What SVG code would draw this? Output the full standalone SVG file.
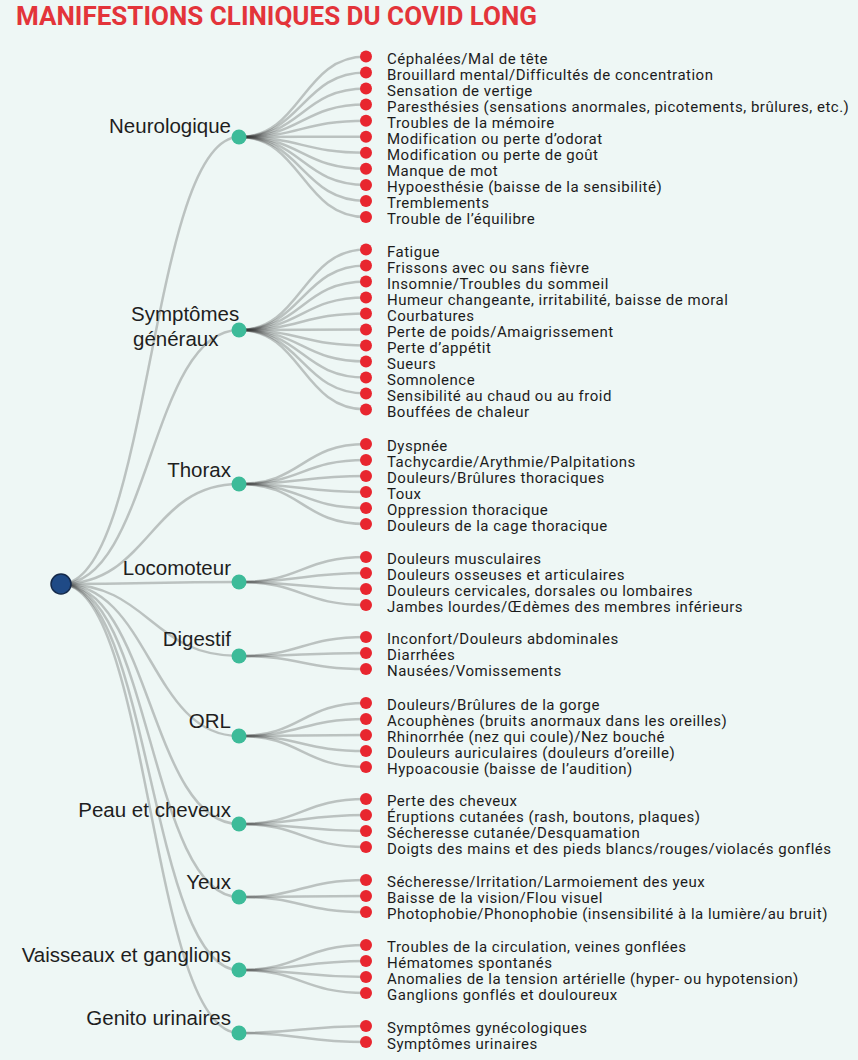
<svg xmlns="http://www.w3.org/2000/svg" width="858" height="1060" viewBox="0 0 858 1060">
<style>
.bg{fill:#eef7f5}
.title{font-family:Roboto,"Liberation Sans",sans-serif;font-weight:700;font-size:25px;fill:#e3343a}
.cat{font-family:"Liberation Sans",Arial,sans-serif;font-size:20.5px;fill:#1e1e1e;text-anchor:end}
.leaf{font-family:Roboto,"Liberation Sans",sans-serif;font-size:15px;letter-spacing:0.5px;fill:#1c1c1c}
.lk{fill:none;stroke:#333;stroke-opacity:0.27;stroke-width:2.5}
.root{fill:#1f4a86;stroke:#14294a;stroke-width:1.5}
.cn{fill:#3dbb99}
.ln{fill:#e8262f}
</style>
<rect class="bg" x="0" y="0" width="858" height="1060"/>
<text class="title" x="16" y="25" textLength="521" lengthAdjust="spacingAndGlyphs">MANIFESTIONS CLINIQUES DU COVID LONG</text>
<g id="connectors">
<path class="lk" d="M61,584 C150,584 150,137 239,137"/>
<path class="lk" d="M61,584 C150,584 150,330 239,330"/>
<path class="lk" d="M61,584 C150,584 150,484 239,484"/>
<path class="lk" d="M61,584 C150,584 150,582 239,582"/>
<path class="lk" d="M61,584 C150,584 150,656 239,656"/>
<path class="lk" d="M61,584 C150,584 150,736 239,736"/>
<path class="lk" d="M61,584 C150,584 150,824 239,824"/>
<path class="lk" d="M61,584 C150,584 150,897 239,897"/>
<path class="lk" d="M61,584 C150,584 150,970 239,970"/>
<path class="lk" d="M61,584 C150,584 150,1033 239,1033"/>
<path class="lk" d="M239,137 C302,137 302,56.5 366,56.5"/>
<path class="lk" d="M239,137 C302,137 302,72.5 366,72.5"/>
<path class="lk" d="M239,137 C302,137 302,88.6 366,88.6"/>
<path class="lk" d="M239,137 C302,137 302,104.6 366,104.6"/>
<path class="lk" d="M239,137 C302,137 302,120.7 366,120.7"/>
<path class="lk" d="M239,137 C302,137 302,136.7 366,136.7"/>
<path class="lk" d="M239,137 C302,137 302,152.8 366,152.8"/>
<path class="lk" d="M239,137 C302,137 302,168.8 366,168.8"/>
<path class="lk" d="M239,137 C302,137 302,184.9 366,184.9"/>
<path class="lk" d="M239,137 C302,137 302,200.9 366,200.9"/>
<path class="lk" d="M239,137 C302,137 302,217 366,217"/>
<path class="lk" d="M239,330 C302,330 302,249.5 366,249.5"/>
<path class="lk" d="M239,330 C302,330 302,265.5 366,265.5"/>
<path class="lk" d="M239,330 C302,330 302,281.5 366,281.5"/>
<path class="lk" d="M239,330 C302,330 302,297.5 366,297.5"/>
<path class="lk" d="M239,330 C302,330 302,313.5 366,313.5"/>
<path class="lk" d="M239,330 C302,330 302,329.5 366,329.5"/>
<path class="lk" d="M239,330 C302,330 302,345.5 366,345.5"/>
<path class="lk" d="M239,330 C302,330 302,361.5 366,361.5"/>
<path class="lk" d="M239,330 C302,330 302,377.5 366,377.5"/>
<path class="lk" d="M239,330 C302,330 302,393.5 366,393.5"/>
<path class="lk" d="M239,330 C302,330 302,409.5 366,409.5"/>
<path class="lk" d="M239,484 C302,484 302,444 366,444"/>
<path class="lk" d="M239,484 C302,484 302,460 366,460"/>
<path class="lk" d="M239,484 C302,484 302,476 366,476"/>
<path class="lk" d="M239,484 C302,484 302,492 366,492"/>
<path class="lk" d="M239,484 C302,484 302,508 366,508"/>
<path class="lk" d="M239,484 C302,484 302,524 366,524"/>
<path class="lk" d="M239,582 C302,582 302,557 366,557"/>
<path class="lk" d="M239,582 C302,582 302,573 366,573"/>
<path class="lk" d="M239,582 C302,582 302,589 366,589"/>
<path class="lk" d="M239,582 C302,582 302,605 366,605"/>
<path class="lk" d="M239,656 C302,656 302,637 366,637"/>
<path class="lk" d="M239,656 C302,656 302,653 366,653"/>
<path class="lk" d="M239,656 C302,656 302,669 366,669"/>
<path class="lk" d="M239,736 C302,736 302,703 366,703"/>
<path class="lk" d="M239,736 C302,736 302,719 366,719"/>
<path class="lk" d="M239,736 C302,736 302,735 366,735"/>
<path class="lk" d="M239,736 C302,736 302,751 366,751"/>
<path class="lk" d="M239,736 C302,736 302,767 366,767"/>
<path class="lk" d="M239,824 C302,824 302,799 366,799"/>
<path class="lk" d="M239,824 C302,824 302,815 366,815"/>
<path class="lk" d="M239,824 C302,824 302,831 366,831"/>
<path class="lk" d="M239,824 C302,824 302,847 366,847"/>
<path class="lk" d="M239,897 C302,897 302,880 366,880"/>
<path class="lk" d="M239,897 C302,897 302,896 366,896"/>
<path class="lk" d="M239,897 C302,897 302,912 366,912"/>
<path class="lk" d="M239,970 C302,970 302,945 366,945"/>
<path class="lk" d="M239,970 C302,970 302,961 366,961"/>
<path class="lk" d="M239,970 C302,970 302,977 366,977"/>
<path class="lk" d="M239,970 C302,970 302,993 366,993"/>
<path class="lk" d="M239,1033 C302,1033 302,1026 366,1026"/>
<path class="lk" d="M239,1033 C302,1033 302,1042 366,1042"/>
</g>
<g id="root"><circle class="root" cx="61" cy="584" r="10"/></g>
<g id="cat-neurologique">
<circle class="cn" cx="239" cy="137" r="7.5"/>
<text class="cat" x="231" y="133">Neurologique</text>
</g>
<g id="cat-symptomes">
<circle class="cn" cx="239" cy="330" r="7.5"/>
<text class="cat" x="131" y="321" style="text-anchor:start">Symptômes</text>
<text class="cat" x="133" y="346" style="text-anchor:start">généraux</text>
</g>
<g id="cat-thorax">
<circle class="cn" cx="239" cy="484" r="7.5"/>
<text class="cat" x="231" y="477">Thorax</text>
</g>
<g id="cat-locomoteur">
<circle class="cn" cx="239" cy="582" r="7.5"/>
<text class="cat" x="231" y="575">Locomoteur</text>
</g>
<g id="cat-digestif">
<circle class="cn" cx="239" cy="656" r="7.5"/>
<text class="cat" x="231" y="646">Digestif</text>
</g>
<g id="cat-orl">
<circle class="cn" cx="239" cy="736" r="7.5"/>
<text class="cat" x="231" y="728">ORL</text>
</g>
<g id="cat-peau">
<circle class="cn" cx="239" cy="824" r="7.5"/>
<text class="cat" x="231" y="817">Peau et cheveux</text>
</g>
<g id="cat-yeux">
<circle class="cn" cx="239" cy="897" r="7.5"/>
<text class="cat" x="231" y="889">Yeux</text>
</g>
<g id="cat-vaisseaux">
<circle class="cn" cx="239" cy="970" r="7.5"/>
<text class="cat" x="231" y="962">Vaisseaux et ganglions</text>
</g>
<g id="cat-genito">
<circle class="cn" cx="239" cy="1033" r="7.5"/>
<text class="cat" x="231" y="1025">Genito urinaires</text>
</g>
<g id="leaves">
<circle class="ln" cx="366" cy="56.5" r="6"/><text class="leaf" x="387" y="64">Céphalées/Mal de tête</text>
<circle class="ln" cx="366" cy="72.5" r="6"/><text class="leaf" x="387" y="80">Brouillard mental/Difficultés de concentration</text>
<circle class="ln" cx="366" cy="88.6" r="6"/><text class="leaf" x="387" y="96">Sensation de vertige</text>
<circle class="ln" cx="366" cy="104.6" r="6"/><text class="leaf" x="387" y="112">Paresthésies (sensations anormales, picotements, brûlures, etc.)</text>
<circle class="ln" cx="366" cy="120.7" r="6"/><text class="leaf" x="387" y="128">Troubles de la mémoire</text>
<circle class="ln" cx="366" cy="136.7" r="6"/><text class="leaf" x="387" y="144">Modification ou perte d’odorat</text>
<circle class="ln" cx="366" cy="152.8" r="6"/><text class="leaf" x="387" y="160">Modification ou perte de goût</text>
<circle class="ln" cx="366" cy="168.8" r="6"/><text class="leaf" x="387" y="176">Manque de mot</text>
<circle class="ln" cx="366" cy="184.9" r="6"/><text class="leaf" x="387" y="192">Hypoesthésie (baisse de la sensibilité)</text>
<circle class="ln" cx="366" cy="200.9" r="6"/><text class="leaf" x="387" y="208">Tremblements</text>
<circle class="ln" cx="366" cy="217" r="6"/><text class="leaf" x="387" y="224">Trouble de l’équilibre</text>
<circle class="ln" cx="366" cy="249.5" r="6"/><text class="leaf" x="387" y="257">Fatigue</text>
<circle class="ln" cx="366" cy="265.5" r="6"/><text class="leaf" x="387" y="273">Frissons avec ou sans fièvre</text>
<circle class="ln" cx="366" cy="281.5" r="6"/><text class="leaf" x="387" y="289">Insomnie/Troubles du sommeil</text>
<circle class="ln" cx="366" cy="297.5" r="6"/><text class="leaf" x="387" y="305">Humeur changeante, irritabilité, baisse de moral</text>
<circle class="ln" cx="366" cy="313.5" r="6"/><text class="leaf" x="387" y="321">Courbatures</text>
<circle class="ln" cx="366" cy="329.5" r="6"/><text class="leaf" x="387" y="337">Perte de poids/Amaigrissement</text>
<circle class="ln" cx="366" cy="345.5" r="6"/><text class="leaf" x="387" y="353">Perte d’appétit</text>
<circle class="ln" cx="366" cy="361.5" r="6"/><text class="leaf" x="387" y="369">Sueurs</text>
<circle class="ln" cx="366" cy="377.5" r="6"/><text class="leaf" x="387" y="385">Somnolence</text>
<circle class="ln" cx="366" cy="393.5" r="6"/><text class="leaf" x="387" y="401">Sensibilité au chaud ou au froid</text>
<circle class="ln" cx="366" cy="409.5" r="6"/><text class="leaf" x="387" y="417">Bouffées de chaleur</text>
<circle class="ln" cx="366" cy="444" r="6"/><text class="leaf" x="387" y="451">Dyspnée</text>
<circle class="ln" cx="366" cy="460" r="6"/><text class="leaf" x="387" y="467">Tachycardie/Arythmie/Palpitations</text>
<circle class="ln" cx="366" cy="476" r="6"/><text class="leaf" x="387" y="483">Douleurs/Brûlures thoraciques</text>
<circle class="ln" cx="366" cy="492" r="6"/><text class="leaf" x="387" y="499">Toux</text>
<circle class="ln" cx="366" cy="508" r="6"/><text class="leaf" x="387" y="515">Oppression thoracique</text>
<circle class="ln" cx="366" cy="524" r="6"/><text class="leaf" x="387" y="531">Douleurs de la cage thoracique</text>
<circle class="ln" cx="366" cy="557" r="6"/><text class="leaf" x="387" y="564">Douleurs musculaires</text>
<circle class="ln" cx="366" cy="573" r="6"/><text class="leaf" x="387" y="580">Douleurs osseuses et articulaires</text>
<circle class="ln" cx="366" cy="589" r="6"/><text class="leaf" x="387" y="596">Douleurs cervicales, dorsales ou lombaires</text>
<circle class="ln" cx="366" cy="605" r="6"/><text class="leaf" x="387" y="612">Jambes lourdes/Œdèmes des membres inférieurs</text>
<circle class="ln" cx="366" cy="637" r="6"/><text class="leaf" x="387" y="644">Inconfort/Douleurs abdominales</text>
<circle class="ln" cx="366" cy="653" r="6"/><text class="leaf" x="387" y="660">Diarrhées</text>
<circle class="ln" cx="366" cy="669" r="6"/><text class="leaf" x="387" y="676">Nausées/Vomissements</text>
<circle class="ln" cx="366" cy="703" r="6"/><text class="leaf" x="387" y="710">Douleurs/Brûlures de la gorge</text>
<circle class="ln" cx="366" cy="719" r="6"/><text class="leaf" x="387" y="726">Acouphènes (bruits anormaux dans les oreilles)</text>
<circle class="ln" cx="366" cy="735" r="6"/><text class="leaf" x="387" y="742">Rhinorrhée (nez qui coule)/Nez bouché</text>
<circle class="ln" cx="366" cy="751" r="6"/><text class="leaf" x="387" y="758">Douleurs auriculaires (douleurs d’oreille)</text>
<circle class="ln" cx="366" cy="767" r="6"/><text class="leaf" x="387" y="774">Hypoacousie (baisse de l’audition)</text>
<circle class="ln" cx="366" cy="799" r="6"/><text class="leaf" x="387" y="806">Perte des cheveux</text>
<circle class="ln" cx="366" cy="815" r="6"/><text class="leaf" x="387" y="822">Éruptions cutanées (rash, boutons, plaques)</text>
<circle class="ln" cx="366" cy="831" r="6"/><text class="leaf" x="387" y="838">Sécheresse cutanée/Desquamation</text>
<circle class="ln" cx="366" cy="847" r="6"/><text class="leaf" x="387" y="854">Doigts des mains et des pieds blancs/rouges/violacés gonflés</text>
<circle class="ln" cx="366" cy="880" r="6"/><text class="leaf" x="387" y="887">Sécheresse/Irritation/Larmoiement des yeux</text>
<circle class="ln" cx="366" cy="896" r="6"/><text class="leaf" x="387" y="903">Baisse de la vision/Flou visuel</text>
<circle class="ln" cx="366" cy="912" r="6"/><text class="leaf" x="387" y="919">Photophobie/Phonophobie (insensibilité à la lumière/au bruit)</text>
<circle class="ln" cx="366" cy="945" r="6"/><text class="leaf" x="387" y="952">Troubles de la circulation, veines gonflées</text>
<circle class="ln" cx="366" cy="961" r="6"/><text class="leaf" x="387" y="968">Hématomes spontanés</text>
<circle class="ln" cx="366" cy="977" r="6"/><text class="leaf" x="387" y="984">Anomalies de la tension artérielle (hyper- ou hypotension)</text>
<circle class="ln" cx="366" cy="993" r="6"/><text class="leaf" x="387" y="1000">Ganglions gonflés et douloureux</text>
<circle class="ln" cx="366" cy="1026" r="6"/><text class="leaf" x="387" y="1033">Symptômes gynécologiques</text>
<circle class="ln" cx="366" cy="1042" r="6"/><text class="leaf" x="387" y="1049">Symptômes urinaires</text>
</g>
</svg>
